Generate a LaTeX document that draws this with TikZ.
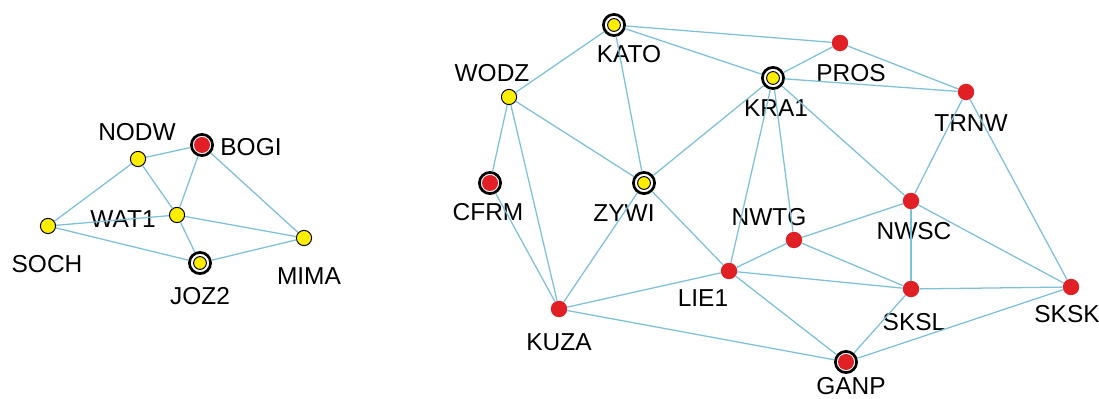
\documentclass[tikz,border=0pt]{standalone}
\usepackage{fontspec}
\setmainfont{Liberation Sans}
\usetikzlibrary{positioning}

\definecolor{ptred}{RGB}{224,32,36}
\definecolor{ptyellow}{RGB}{255,238,0}
\definecolor{linkblue}{RGB}{125,192,218}

\begin{document}
\begin{tikzpicture}[x=0.025cm, y=-0.025cm,
  redpt/.style={circle, fill=ptred, inner sep=0pt, minimum size=0.41cm},
  yelpt/.style={circle, draw=black, line width=0.7pt, fill=ptyellow, inner sep=0pt, minimum size=0.38cm},
  ring/.style={circle, draw=black, line width=1.9pt, fill=white, inner sep=0pt, minimum size=0.53cm},
  redin/.style={circle, fill=ptred, inner sep=0pt, minimum size=0.4cm},
  yelin/.style={circle, draw=black, line width=0.7pt, fill=ptyellow, inner sep=0pt, minimum size=0.32cm},
  tag/.style={font=\fontsize{17.4}{19}\selectfont, inner sep=0pt},
  link/.style={draw=linkblue, line width=0.9pt}]
\useasboundingbox (0,0) rectangle (1099,399);

% lewa siec
\node[yelpt] (NODW) at (138,159) {};
\node[ring] (BOGI) at (202,145) {};
\node[redin] at (BOGI) {};
\node[yelpt] (WAT1) at (177,215) {};
\node[yelpt] (SOCH) at (48,226) {};
\node[ring] (JOZ2) at (200,263) {};
\node[yelin] at (JOZ2) {};
\node[yelpt] (MIMA) at (304,238) {};

\node[tag] (tNODW) at (137,132) {NODW};
\node[tag] (tBOGI) at (251,147) {BOGI};
\node[tag] (tWAT1) at (123,219) {WAT1};
\node[tag] (tSOCH) at (47,264) {SOCH};
\node[tag] (tJOZ2) at (200,296) {JOZ2};
\node[tag] (tMIMA) at (309,276) {MIMA};

% prawa siec
\node[ring] (KATO) at (614,25) {};
\node[yelin] at (KATO) {};
\node[yelpt] (WODZ) at (509,97) {};
\node[ring] (CFRM) at (490,183) {};
\node[redin] at (CFRM) {};
\node[ring] (ZYWI) at (644,183) {};
\node[yelin] at (ZYWI) {};
\node[ring] (KRA1) at (773,78) {};
\node[yelin] at (KRA1) {};
\node[redpt] (PROS) at (840,43) {};
\node[redpt] (TRNW) at (966,92) {};
\node[redpt] (NWSC) at (911,201) {};
\node[redpt] (NWTG) at (794,240) {};
\node[redpt] (LIE1) at (729,271) {};
\node[redpt] (KUZA) at (559,309) {};
\node[redpt] (SKSL) at (911,289) {};
\node[redpt] (SKSK) at (1071,287) {};
\node[ring] (GANP) at (846,362) {};
\node[redin] at (GANP) {};

\node[tag] (tKATO) at (629,54) {KATO};
\node[tag] (tWODZ) at (492,73) {WODZ};
\node[tag] (tCFRM) at (488,212) {CFRM};
\node[tag] (tZYWI) at (624,213) {ZYWI};
\node[tag] (tKRA1) at (776,108) {KRA1};
\node[tag] (tPROS) at (851,73) {PROS};
\node[tag] (tTRNW) at (971,123) {TRNW};
\node[tag] (tNWSC) at (914,231) {NWSC};
\node[tag] (tNWTG) at (769,217) {NWTG};
\node[tag] (tLIE1) at (703,298) {LIE1};
\node[tag] (tKUZA) at (559,342) {KUZA};
\node[tag] (tSKSL) at (914,322) {SKSL};
\node[tag] (tSKSK) at (1067,314) {SKSK};
\node[tag] (tGANP) at (851,386) {GANP};

% polaczenia
\draw[link] (NODW) -- (BOGI);
\draw[link] (NODW) -- (SOCH);
\draw[link] (NODW) -- (WAT1);
\draw[link] (BOGI) -- (WAT1);
\draw[link] (BOGI) -- (MIMA);
\draw[link] (SOCH) -- (WAT1);
\draw[link] (SOCH) -- (JOZ2);
\draw[link] (WAT1) -- (MIMA);
\draw[link] (WAT1) -- (JOZ2);
\draw[link] (JOZ2) -- (MIMA);

\draw[link] (KATO) -- (WODZ);
\draw[link] (KATO) -- (ZYWI);
\draw[link] (KATO) -- (KRA1);
\draw[link] (KATO) -- (PROS);
\draw[link] (WODZ) -- (CFRM);
\draw[link] (WODZ) -- (KUZA);
\draw[link] (WODZ) -- (ZYWI);
\draw[link] (CFRM) -- (KUZA);
\draw[link] (ZYWI) -- (KRA1);
\draw[link] (ZYWI) -- (LIE1);
\draw[link] (ZYWI) -- (KUZA);
\draw[link] (KRA1) -- (PROS);
\draw[link] (KRA1) -- (TRNW);
\draw[link] (KRA1) -- (LIE1);
\draw[link] (KRA1) -- (NWTG);
\draw[link] (KRA1) -- (NWSC);
\draw[link] (PROS) -- (TRNW);
\draw[link] (TRNW) -- (NWSC);
\draw[link] (TRNW) -- (SKSK);
\draw[link] (NWSC) -- (NWTG);
\draw[link] (NWSC) -- (SKSL);
\draw[link] (NWSC) -- (SKSK);
\draw[link] (NWTG) -- (LIE1);
\draw[link] (NWTG) -- (SKSL);
\draw[link] (LIE1) -- (KUZA);
\draw[link] (LIE1) -- (SKSL);
\draw[link] (LIE1) -- (GANP);
\draw[link] (KUZA) -- (GANP);
\draw[link] (SKSL) -- (SKSK);
\draw[link] (SKSL) -- (GANP);
\draw[link] (SKSK) -- (GANP);
\end{tikzpicture}
\end{document}
